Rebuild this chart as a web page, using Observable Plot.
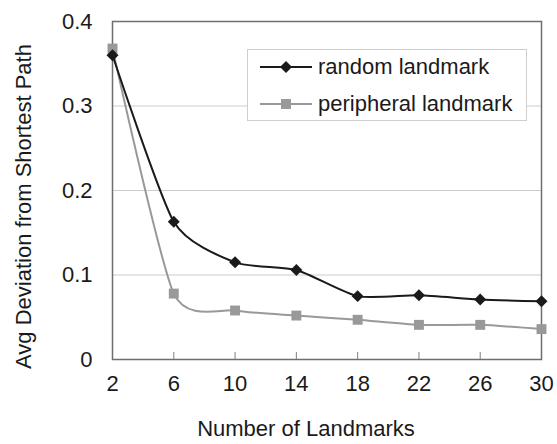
<!DOCTYPE html>
<html>
<head>
<meta charset="utf-8">
<script src="https://cdn.jsdelivr.net/npm/d3@7"></script>
<script src="https://cdn.jsdelivr.net/npm/@observablehq/plot@0.6"></script>
<style>
  body { margin: 0; background: #fff; }
  #wrap { position: relative; width: 557px; height: 444px; font-family: "Liberation Sans", Arial, sans-serif; }
  #legend { position: absolute; left: 247px; top: 49px; width: 280px; height: 72px; border: 1px solid #cfcfcf; background: #fff; box-sizing: border-box; }
  .row { position: absolute; left: 0; height: 30px; display: flex; align-items: center; font-size: 22px; color: #1a1a1a; white-space: nowrap; }
  .row svg { margin-left: 12px; margin-right: 6px; }
</style>
</head>
<body>
<div id="wrap"></div>
<script>
const xValues = [2, 6, 10, 14, 18, 22, 26, 30];
const randomValues = [0.360, 0.163, 0.115, 0.106, 0.075, 0.076, 0.071, 0.069];
const peripheralValues = [0.368, 0.078, 0.058, 0.052, 0.047, 0.041, 0.041, 0.036];
const xTicks = [2, 6, 10, 14, 18, 22, 26, 30];
const yTicks = [0, 0.1, 0.2, 0.3, 0.4];
const seriesNames = ["random landmark", "peripheral landmark"];
const xLabel = "Number of Landmarks";
const yLabel = "Avg Deviation from Shortest Path";

const randomData = xValues.map((x, i) => ({x, y: randomValues[i]}));
const periphData = xValues.map((x, i) => ({x, y: peripheralValues[i]}));

const dark = "#1a1a1a", gray = "#999999";

const chart = Plot.plot({
  width: 557, height: 444,
  marginLeft: 112, marginRight: 16, marginTop: 21, marginBottom: 85,
  style: {fontFamily: "'Liberation Sans', Arial, sans-serif", background: "#fff", color: "#1a1a1a"},
  x: {domain: [2, 30]},
  y: {domain: [0, 0.4]},
  marks: [
    Plot.gridY(yTicks, {stroke: "#cccccc", strokeOpacity: 1}),
    Plot.tickX(xTicks, {x: d => d, insetTop: 331, stroke: "#808080"}),
    Plot.axisX(xTicks, {tickSize: 0, tickPadding: 16, fontSize: 22, label: null, fill: "#1a1a1a"}),
    Plot.axisY(yTicks, {tickSize: 0, tickPadding: 20, fontSize: 22, label: null, fill: "#1a1a1a",
      tickFormat: d => d === 0 ? "0" : d.toFixed(1)}),
    Plot.frame({stroke: "#6e6e6e", strokeWidth: 1.5}),
    Plot.line(periphData, {x: "x", y: "y", curve: "cardinal", tension: 0.35, stroke: gray, strokeWidth: 2}),
    Plot.dot(periphData, {x: "x", y: "y", symbol: "square", r: 5.6, fill: gray, stroke: "none"}),
    Plot.line(randomData, {x: "x", y: "y", curve: "cardinal", tension: 0.35, stroke: dark, strokeWidth: 2}),
    Plot.dot(randomData, {x: "x", y: "y", symbol: "diamond2", r: 5.4, fill: dark, stroke: "none"}),
    Plot.text([xLabel], {text: d => d, frameAnchor: "bottom", dx: -21, dy: 76, fontSize: 22, fill: "#1a1a1a"}),
    Plot.text([yLabel], {text: d => d, frameAnchor: "left", textAnchor: "middle", dx: -89, dy: 16, rotate: -90, fontSize: 22, fill: "#1a1a1a"})
  ]
});
const wrap = document.getElementById("wrap");
wrap.appendChild(chart);

const legend = document.createElement("div");
legend.id = "legend";
const items = [
  {name: seriesNames[0], color: dark, shape: "diamond"},
  {name: seriesNames[1], color: gray, shape: "square"}
];
items.forEach((it, i) => {
  const row = document.createElement("div");
  row.className = "row";
  row.style.top = (i === 0 ? 2 : 39) + "px";
  const marker = it.shape === "diamond"
    ? `<polygon points="26,1 32,7 26,13 20,7" fill="${it.color}"/>`
    : `<rect x="21" y="2" width="10" height="10" fill="${it.color}"/>`;
  row.innerHTML = `<svg width="52" height="14"><line x1="0" y1="7" x2="52" y2="7" stroke="${it.color}" stroke-width="2"/>${marker}</svg><span>${it.name}</span>`;
  legend.appendChild(row);
});
wrap.appendChild(legend);
</script>
</body>
</html>
